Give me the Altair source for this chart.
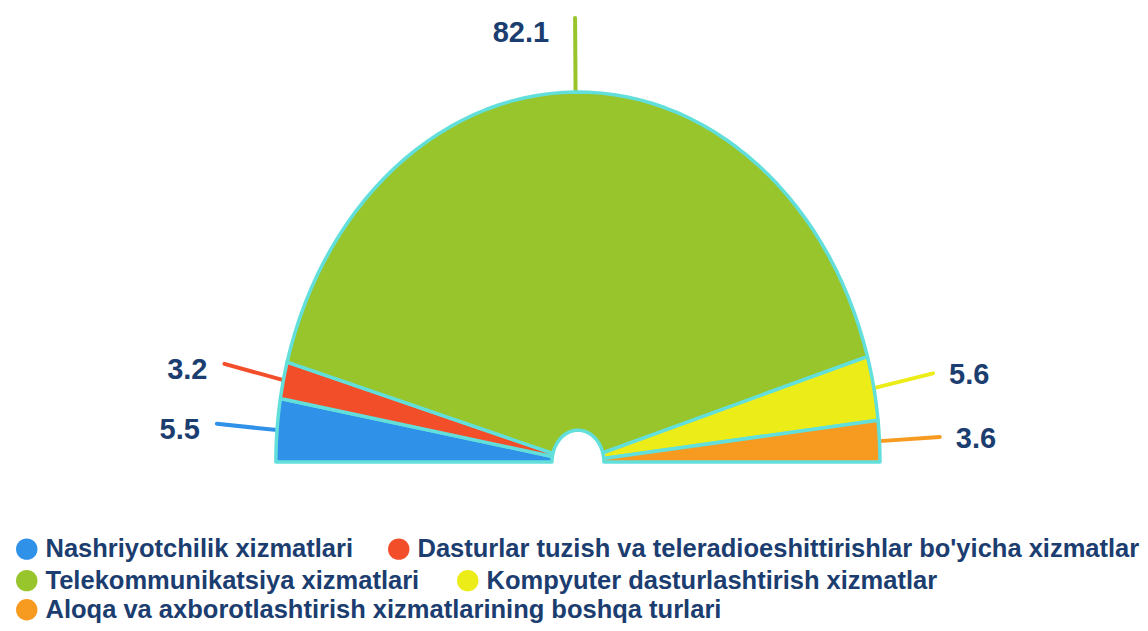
import altair as alt
import pandas as pd

categories = [
    "Nashriyotchilik xizmatlari",
    "Dasturlar tuzish va teleradioeshittirishlar bo'yicha xizmatlar",
    "Telekommunikatsiya xizmatlari",
    "Kompyuter dasturlashtirish xizmatlar",
    "Aloqa va axborotlashtirish xizmatlarining boshqa turlari",
]
values = [5.5, 3.2, 82.1, 5.6, 3.6]
colors = ["#2f91e8", "#f24e2a", "#98c52b", "#ecec18", "#f79a20"]

df = pd.DataFrame({"cat": categories, "value": values, "ord": list(range(len(values)))})

FONT = "Liberation Sans, Arial, sans-serif"
TXT = "#1b3d6f"
EDGE = "#62dfdb"
N = 60

xs = alt.Scale(domain=[-1.887, 1.861], nice=False, zero=False)
ys = alt.Scale(domain=[-0.435, 1.227], nice=False, zero=False)
cscale = alt.Scale(domain=categories, range=colors)


def legend_row(vals, y, pad):
    return alt.Legend(
        title=None,
        values=vals,
        orient="none",
        direction="horizontal",
        legendX=6,
        legendY=y,
        symbolType="circle",
        symbolSize=460,
        symbolStrokeWidth=0,
        symbolOpacity=1,
        labelFont=FONT,
        labelFontSize=25.5,
        labelFontWeight="bold",
        labelColor=TXT,
        labelLimit=0,
        labelOffset=6,
        columnPadding=pad,
    )


base = (
    alt.Chart(df)
    .transform_joinaggregate(total="sum(value)")
    .transform_window(cum="sum(value)", sort=[alt.SortField("ord")], frame=[None, 0])
    .transform_calculate(a0="(datum.cum - datum.value) / datum.total * PI")
    .transform_calculate(a1="datum.cum / datum.total * PI")
)

slices = (
    base.transform_calculate(steps=f"sequence(0, {2 * N + 2})")
    .transform_flatten(["steps"], as_=["idx"])
    .transform_calculate(t=f"datum.idx <= {N} ? datum.idx / {N} : ({2 * N + 1} - datum.idx) / {N}")
    .transform_calculate(r=f"datum.idx <= {N} ? 1 : 0.086")
    .transform_calculate(phi="datum.a0 + (datum.a1 - datum.a0) * datum.t")
    .transform_calculate(px="-datum.r * cos(datum.phi)")
    .transform_calculate(py="datum.r * sin(datum.phi)")
    .mark_line(interpolate="linear-closed", stroke=EDGE, strokeWidth=3.5, strokeJoin="round")
    .encode(
        x=alt.X("px:Q", scale=xs, axis=None),
        y=alt.Y("py:Q", scale=ys, axis=None),
        fill=alt.Fill("cat:N", scale=cscale, sort=categories,
                      legend=legend_row(categories[0:2], 528, 32)),
        order=alt.Order("idx:Q"),
    )
)

legend2 = alt.Chart(df).transform_filter("false").mark_point(filled=True, shape="circle", opacity=1).encode(
    fill=alt.Fill("cat:N", scale=cscale, sort=categories, legend=legend_row(categories[2:4], 559.5, 35))
)
legend3 = alt.Chart(df).transform_filter("false").mark_point(filled=True, shape="circle", opacity=1).encode(
    fill=alt.Fill("cat:N", scale=cscale, sort=categories, legend=legend_row(categories[4:5], 589, 35))
)

lab = (
    base.transform_calculate(mid="(datum.a0 + datum.a1) / 2")
    .transform_calculate(x0="-cos(datum.mid)")
    .transform_calculate(y0="sin(datum.mid)")
    .transform_calculate(x1="-1.2 * cos(datum.mid)")
    .transform_calculate(y1="1.2 * sin(datum.mid)")
)

rules = lab.mark_rule(strokeWidth=4, strokeCap="round").encode(
    x=alt.X("x0:Q", scale=xs, axis=None),
    y=alt.Y("y0:Q", scale=ys, axis=None),
    x2="x1:Q",
    y2="y1:Q",
    stroke=alt.Stroke("cat:N", scale=cscale, legend=None),
)

text_style = dict(baseline="middle", font=FONT, fontSize=29, fontWeight="bold", color=TXT)


def label_layer(cond, **kw):
    return lab.transform_filter(cond).mark_text(**text_style, **kw).encode(
        x=alt.X("x1:Q", scale=xs, axis=None),
        y=alt.Y("y1:Q", scale=ys, axis=None),
        text=alt.Text("value:Q", format=".1f"),
    )


top_txt = label_layer("abs(datum.x1) < 0.3", align="right", dx=-26, dy=15)
left_txt = label_layer("datum.x1 <= -0.3", align="right", dx=-17, dy=6)
right_txt = label_layer("datum.x1 >= 0.3", align="left", dx=16, dy=2)

chart = (
    alt.layer(rules, slices, legend2, legend3, top_txt, left_txt, right_txt)
    .resolve_scale(fill="independent", stroke="independent")
    .properties(width=1132, height=615, padding=0, autosize="none", background="white")
    .configure_view(stroke=None)
)

chart.save("out.html", embed_options={"renderer": "svg", "actions": False})
